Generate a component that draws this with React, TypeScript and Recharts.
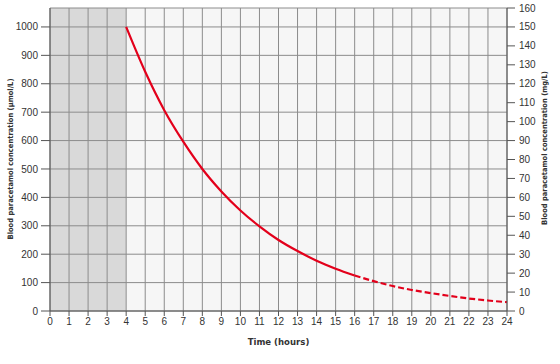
import { CartesianGrid, Line, LineChart, ReferenceLine, XAxis, YAxis } from "recharts";

// hours after ingestion
const hours = [0, 1, 2, 3, 4, 5, 6, 7, 8, 9, 10, 11, 12, 13, 14, 15, 16, 17, 18, 19, 20, 21, 22, 23, 24];
// treatment line, µmol/L (solid 4–16 h, dashed after)
const lineValues = [null, null, null, null, 1000, 842, 707, 596, 500, 421, 354, 298, 250, 211, 177, 149, 125, 105, 88, 74, 63, 53, 44, 37, 31];
const solidEnd = 16;

const leftTicks = [0, 100, 200, 300, 400, 500, 600, 700, 800, 900, 1000];
const rightTicks = [0, 10, 20, 30, 40, 50, 60, 70, 80, 90, 100, 110, 120, 130, 140, 150, 160];
const leftMax = 1000 * 160 / 150;
const shadedUntil = 4;

const data = hours.map((h, i) => ({
    hour: h,
    solid: h <= solidEnd ? lineValues[i] : null,
    dashed: h >= solidEnd ? lineValues[i] : null,
}));

const tickStyle = { fill: "#333", fontSize: 10, fontFamily: "Liberation Sans, Arial, sans-serif" };
const titleFont = "DejaVu Sans Condensed, Liberation Sans, sans-serif";
const gridColor = "#8c8c8c";
const axisColor = "#555";
const red = "#e3001b";

// one stripe per hour: grey for the first four hours
const stripeFills = hours.slice(0, -1).map(h => (h < shadedUntil ? "#d9d9d9" : "#f6f6f6"));

const LeftTitle = () => {
    const cx = 10;
    const cy = 159;
    return (
        <text x={cx} y={cy} transform={`rotate(-90, ${cx}, ${cy})`} textAnchor="middle" dominantBaseline="central"
            fontSize={7.5} fontWeight="bold" fill="#333" fontFamily={titleFont}>
            Blood paracetamol concentration (µmol/L)
        </text>
    );
};

const RightTitle = () => {
    const cx = 544;
    const cy = 148;
    return (
        <text x={cx} y={cy} transform={`rotate(-90, ${cx}, ${cy})`} textAnchor="middle" dominantBaseline="central"
            fontSize={7.5} fontWeight="bold" fill="#333" fontFamily={titleFont}>
            Blood paracetamol concentration (mg/L)
        </text>
    );
};

export default function App() {
    return (
        <div style={{ position: "absolute", left: 0, top: 0, width: 560, height: 364, background: "#fff" }}>
            <LineChart width={560} height={364} data={data} margin={{ top: 8, right: 0, bottom: 0, left: 0 }}>
                <CartesianGrid horizontal={false} stroke={gridColor} strokeWidth={1} verticalFill={stripeFills} fillOpacity={1} />
                {/* horizontal grid follows the µmol/L ticks, plus the top border */}
                {[...leftTicks, leftMax].map(v => (
                    <ReferenceLine key={v} yAxisId="conc" y={v} stroke={gridColor} />
                ))}
                <XAxis
                    dataKey="hour"
                    type="number"
                    domain={[0, 24]}
                    ticks={hours}
                    interval={0}
                    height={53}
                    tick={tickStyle}
                    tickSize={5}
                    tickMargin={2}
                    stroke={axisColor}
                    label={{ value: "Time (hours)", position: "insideBottom", offset: 19, fill: "#333", fontSize: 9.5, fontWeight: "bold", fontFamily: titleFont }}
                />
                <YAxis
                    yAxisId="conc"
                    domain={[0, leftMax]}
                    ticks={leftTicks}
                    interval={0}
                    width={50}
                    tick={tickStyle}
                    tickSize={9}
                    tickMargin={3}
                    stroke={axisColor}
                    allowDataOverflow
                    label={LeftTitle}
                />
                <YAxis
                    yAxisId="mg"
                    orientation="right"
                    domain={[0, 160]}
                    ticks={rightTicks}
                    interval={0}
                    width={53}
                    tick={{ ...tickStyle, textAnchor: "start" }}
                    tickSize={8}
                    tickMargin={4}
                    stroke={axisColor}
                    allowDataOverflow
                    label={RightTitle}
                />
                <Line yAxisId="conc" type="monotone" dataKey="solid" stroke={red} strokeWidth={2.2} dot={false} isAnimationActive={false} />
                <Line yAxisId="conc" type="monotone" dataKey="dashed" stroke={red} strokeWidth={2.2} strokeDasharray="6 3" dot={false} isAnimationActive={false} />
            </LineChart>
        </div>
    );
}
